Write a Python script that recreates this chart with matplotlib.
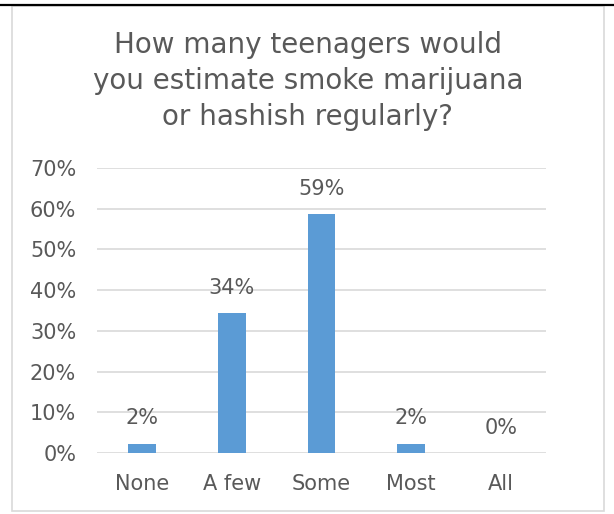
import matplotlib.pyplot as plt
from matplotlib.patches import Rectangle
from matplotlib.lines import Line2D

categories = ["None", "A few", "Some", "Most", "All"]
values = [2.3, 34.3, 58.6, 2.3, 0.0]
labels = ["2%", "34%", "59%", "2%", "0%"]
yticks = [0, 10, 20, 30, 40, 50, 60, 70]

title = "How many teenagers would\nyou estimate smoke marijuana\nor hashish regularly?"
text_col = "#595959"
bar_col = "#5b9bd5"
grid_col = "#d9d9d9"

plt.rcParams['font.family'] = ['DejaVu Sans']

fig = plt.figure(figsize=(6.14, 5.14), dpi=100)
fig.patch.set_facecolor("white")

# chart border and top black line
fig.add_artist(Rectangle((12 / 614, 3 / 514), 592 / 614, 505 / 514, transform=fig.transFigure,
                         fill=False, edgecolor="#d9d9d9", linewidth=1.2))
fig.add_artist(Line2D([0, 1], [1 - 5 / 514, 1 - 5 / 514], transform=fig.transFigure,
                      color="black", linewidth=1.6))

ax = fig.add_axes([97 / 614, 61 / 514, 449 / 614, 285 / 514])
x = range(len(categories))
ax.bar(x, values, width=0.31, color=bar_col, zorder=3)

for i, (v, lab) in enumerate(zip(values, labels)):
    ax.annotate(lab, (i, v), xytext=(0, 11), textcoords="offset points",
                ha="center", va="bottom", fontsize=15, color=text_col)

ax.set_xlim(-0.5, len(categories) - 0.5)
ax.set_ylim(0, 70)
ax.set_yticks(yticks)
ax.set_yticklabels([f"{t}%" for t in yticks])
ax.set_xticks(list(x))
ax.set_xticklabels(categories)
ax.tick_params(axis="both", length=0, labelsize=15, colors=text_col)
ax.tick_params(axis="y", pad=15)
ax.tick_params(axis="x", pad=15)
ax.yaxis.grid(True, color=grid_col, linewidth=1.2, zorder=0)
for s in ax.spines.values():
    s.set_visible(False)

fig.text(308 / 614, 1 - 31 / 514, title, ha="center", va="top", fontsize=20,
         color=text_col, linespacing=1.36)

fig.savefig("out.png", dpi=100)
